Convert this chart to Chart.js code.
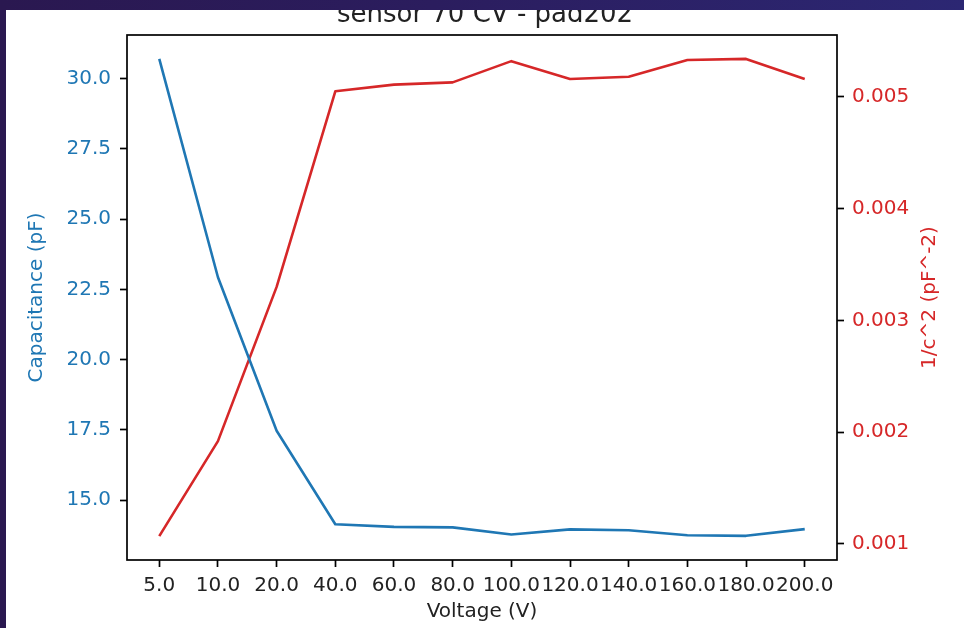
<!DOCTYPE html>
<html>
<head>
<meta charset="utf-8">
<script src="https://cdn.jsdelivr.net/npm/chart.js@4.4.1/dist/chart.umd.min.js"></script>
<style>
  html, body { margin: 0; padding: 0; }
  body {
    width: 964px; height: 628px; overflow: hidden; position: relative;
    background: linear-gradient(90deg, #2a1850 0%, #2b1d5e 45%, #2c2773 100%);
  }
  #panel {
    position: absolute; left: 6px; top: 10px; width: 958px; height: 618px;
    overflow: hidden; background: #fff;
  }
  #holder { position: absolute; left: 0; top: -20px; width: 958px; height: 638px; }
</style>
</head>
<body>
<div id="panel"><div id="holder"><canvas id="myChart" width="958" height="638"></canvas></div></div>
<script>
const VOLTAGES = ['5.0', '10.0', '20.0', '40.0', '60.0', '80.0', '100.0', '120.0', '140.0', '160.0', '180.0', '200.0'];
const CAPACITANCE = [30.70, 22.93, 17.47, 14.14, 14.05, 14.03, 13.78, 13.96, 13.93, 13.75, 13.73, 13.97];
const INV_C2 = [0.00107, 0.00192, 0.00330, 0.00505, 0.00511, 0.00513, 0.00532, 0.00516, 0.00518, 0.00533, 0.00534, 0.00516];

const BLUE = '#1f77b4';
const RED = '#d62728';
const FONT = 'DejaVu Sans';
const CHART = document.getElementById('myChart');

// frame around the axes + right hand label (matplotlib reads it bottom-up)
const extras = {
    id: 'extras',
    afterDraw(chart) {
        const ctx = chart.ctx;
        const a = chart.chartArea;
        ctx.save();
        ctx.strokeStyle = '#000';
        ctx.lineWidth = 1.7;
        ctx.strokeRect(a.left, a.top, a.right - a.left, a.bottom - a.top);
        ctx.translate(924, (a.top + a.bottom) / 2);
        ctx.rotate(-Math.PI / 2);
        ctx.fillStyle = RED;
        ctx.font = '20px "' + FONT + '"';
        ctx.textAlign = 'center';
        ctx.textBaseline = 'middle';
        ctx.fillText('1/c^2 (pF^-2)', 0, 0);
        ctx.restore();
    }
};

const myChart = new Chart(CHART, {
    type: 'line',
    data: {
        datasets: [{
            label: 'Capacitance',
            data: CAPACITANCE.map((v, i) => ({x: i, y: v})),
            borderColor: BLUE,
            borderWidth: 2.6,
            pointRadius: 0,
            borderJoinStyle: 'round',
            yAxisID: 'y'
        }, {
            label: '1/c^2',
            data: INV_C2.map((v, i) => ({x: i, y: v})),
            borderColor: RED,
            borderWidth: 2.6,
            pointRadius: 0,
            borderJoinStyle: 'round',
            yAxisID: 'y1'
        }]
    },
    options: {
        responsive: false,
        animation: false,
        layout: { padding: 0 },
        plugins: {
            legend: { display: false },
            tooltip: { enabled: false },
            title: {
                display: true,
                text: 'sensor 70 CV - pad202',
                color: '#222',
                font: { family: FONT, size: 26, weight: 'normal' },
                padding: { top: 9.7, bottom: 4.1 }
            }
        },
        scales: {
            x: {
                type: 'linear',
                min: -0.55,
                max: 11.55,
                afterFit: s => { s.height = 68; },
                border: { display: false },
                grid: { drawOnChartArea: false, drawTicks: true, tickLength: 7, tickWidth: 1.7, tickColor: '#000' },
                ticks: {
                    stepSize: 1,
                    includeBounds: false,
                    autoSkip: false,
                    maxRotation: 0,
                    minRotation: 0,
                    padding: 7,
                    color: '#222',
                    font: { family: FONT, size: 20 },
                    callback: v => VOLTAGES[v]
                },
                title: {
                    display: true,
                    text: 'Voltage (V)',
                    color: '#222',
                    font: { family: FONT, size: 20 },
                    padding: { top: 0, bottom: 4 }
                }
            },
            y: {
                position: 'left',
                min: 12.87,
                max: 31.55,
                afterFit: s => { s.width = 121; },
                border: { display: false },
                grid: { drawOnChartArea: false, drawTicks: true, tickLength: 7, tickWidth: 1.7, tickColor: '#000' },
                ticks: {
                    stepSize: 2.5,
                    includeBounds: false,
                    padding: 9,
                    color: BLUE,
                    font: { family: FONT, size: 20 },
                    callback: v => v.toFixed(1)
                },
                title: {
                    display: true,
                    text: 'Capacitance (pF)',
                    color: BLUE,
                    font: { family: FONT, size: 20 },
                    padding: { top: 19, bottom: 0 }
                }
            },
            y1: {
                position: 'right',
                min: 0.000856,
                max: 0.005554,
                afterFit: s => { s.width = 127; },
                border: { display: false },
                grid: { drawOnChartArea: false, drawTicks: true, tickLength: 7, tickWidth: 1.7, tickColor: '#000' },
                ticks: {
                    stepSize: 0.001,
                    includeBounds: false,
                    padding: 8,
                    color: RED,
                    font: { family: FONT, size: 20 },
                    callback: v => v.toFixed(3)
                }
            }
        }
    },
    plugins: [extras]
});
</script>
</body>
</html>
